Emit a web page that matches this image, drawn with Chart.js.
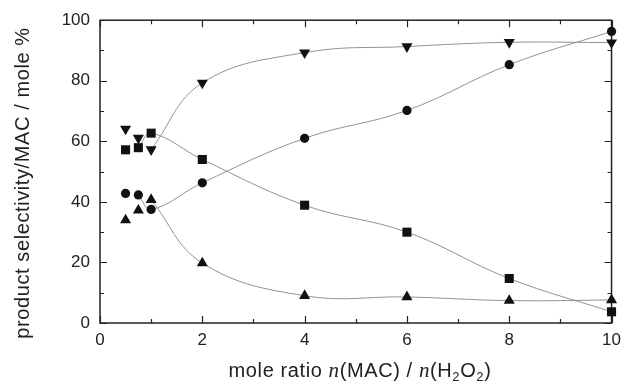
<!DOCTYPE html>
<html>
<head>
<meta charset="utf-8">
<script src="https://cdn.jsdelivr.net/npm/chart.js@4.4.0/dist/chart.umd.min.js"></script>
<style>
    html, body { margin: 0; padding: 0; background: #fff; }
    #wrap { width: 628px; height: 384px; }
</style>
</head>
<body>
<div id="wrap"><canvas id="selectivityChart" width="628" height="384"></canvas></div>
<script>
// mole ratio n(MAC)/n(H2O2)
const ratios = [0.5, 0.75, 1, 2, 4, 6, 8, 10];
// product selectivity, mole %
const circleValues = [42.8, 42.3, 37.5, 46.3, 61.0, 70.2, 85.3, 96.3];
const squareValues = [57.2, 57.9, 62.7, 54.0, 38.9, 30.0, 14.7, 3.7];
const upTriangleValues = [34.0, 37.2, 40.7, 19.8, 9.0, 8.6, 7.4, 7.6];
const downTriangleValues = [64.1, 61.1, 57.3, 79.3, 89.3, 91.3, 92.7, 92.6];
// first point that the fitted curve passes through
const circleCurveStart = 1;
const squareCurveStart = 1;
const upTriangleCurveStart = 2;
const downTriangleCurveStart = 2;

const xTickLabels = [0, 2, 4, 6, 8, 10];
const yTickLabels = [0, 20, 40, 60, 80, 100];
const yTitle = 'product selectivity/MAC / mole %';
// x title pieces: text and style
const xTitleParts = [
    ['mole ratio ', 'normal'], ['n', 'italic'], ['(MAC) / ', 'normal'],
    ['n', 'italic'], ['(H', 'normal'], ['2', 'sub'], ['O', 'normal'],
    ['2', 'sub'], [')', 'normal']
];

const labelFont = '"Liberation Sans", Arial, sans-serif';

function markerSet(values, style, rotation, radius) {
    return {
        data: ratios.map((x, i) => ({ x: x, y: values[i] })),
        pointStyle: style,
        rotation: rotation,
        pointRadius: radius,
        pointHoverRadius: radius,
        backgroundColor: '#111',
        borderColor: '#111',
        borderWidth: 0,
        showLine: false,
        clip: false,
        order: 0
    };
}

function curveSet(values, start) {
    return {
        data: ratios.slice(start).map((x, i) => ({ x: x, y: values[start + i] })),
        borderColor: '#929292',
        borderWidth: 1,
        pointRadius: 0,
        showLine: true,
        tension: 0.4,
        fill: false,
        clip: false,
        order: 1
    };
}

const framePlugin = {
    id: 'frame',
    beforeDatasetsDraw(chart) {
        const { ctx, chartArea: a, scales } = chart;
        const x = scales.x, y = scales.y;
        ctx.save();
        ctx.strokeStyle = '#222';
        ctx.lineWidth = 1.5;
        ctx.strokeRect(a.left, a.top, a.right - a.left, a.bottom - a.top);
        ctx.lineWidth = 1.2;
        ctx.beginPath();
        for (let v = 0; v <= 10; v++) {
            const px = Math.round(x.getPixelForValue(v)) + 0.5;
            const len = v % 2 === 0 ? 7 : 4;
            ctx.moveTo(px, a.bottom);
            ctx.lineTo(px, a.bottom - len);
            ctx.moveTo(px, a.top);
            ctx.lineTo(px, a.top + len);
        }
        for (let v = 0; v <= 100; v += 10) {
            const py = Math.round(y.getPixelForValue(v)) + 0.5;
            const len = v % 20 === 0 ? 7 : 4;
            ctx.moveTo(a.left, py);
            ctx.lineTo(a.left + len, py);
            ctx.moveTo(a.right, py);
            ctx.lineTo(a.right - len, py);
        }
        ctx.stroke();
        ctx.restore();
    },
    afterDraw(chart) {
        const { ctx } = chart;
        const fonts = {
            normal: '20px ' + labelFont,
            italic: 'italic 21px "Liberation Serif", "Times New Roman", serif',
            sub: '13px ' + labelFont
        };
        ctx.save();
        ctx.fillStyle = '#222';
        ctx.textBaseline = 'alphabetic';
        ctx.letterSpacing = '0.6px';

        // y axis title, rotated
        ctx.font = fonts.normal;
        ctx.save();
        ctx.translate(29, 183);
        ctx.rotate(-Math.PI / 2);
        ctx.textAlign = 'center';
        ctx.fillText(yTitle, 0, 0);
        ctx.restore();

        // x axis title with italic n and subscripts
        ctx.textAlign = 'left';
        let total = 0;
        xTitleParts.forEach(p => { ctx.font = fonts[p[1]]; total += ctx.measureText(p[0]).width; });
        let cx = 360 - total / 2;
        const base = 377;
        xTitleParts.forEach(p => {
            ctx.font = fonts[p[1]];
            ctx.fillText(p[0], cx, p[1] === 'sub' ? base + 4 : base);
            cx += ctx.measureText(p[0]).width;
        });
        ctx.restore();
    }
};

const ctx = document.getElementById('selectivityChart').getContext('2d');
const selectivityChart = new Chart(ctx, {
    type: 'scatter',
    data: {
        datasets: [
            markerSet(circleValues, 'circle', 0, 4.6),
            markerSet(squareValues, 'rect', 0, 6.4),
            markerSet(upTriangleValues, 'triangle', 0, 6.4),
            markerSet(downTriangleValues, 'triangle', 180, 6.4),
            curveSet(circleValues, circleCurveStart),
            curveSet(squareValues, squareCurveStart),
            curveSet(upTriangleValues, upTriangleCurveStart),
            curveSet(downTriangleValues, downTriangleCurveStart)
        ]
    },
    options: {
        responsive: false,
        animation: false,
        events: [],
        layout: { padding: { left: 0, right: 11, top: 19, bottom: 0 } },
        plugins: {
            legend: { display: false },
            tooltip: { enabled: false }
        },
        scales: {
            x: {
                type: 'linear',
                min: 0,
                max: 10,
                afterBuildTicks: scale => { scale.ticks = xTickLabels.map(v => ({ value: v })); },
                afterFit: scale => { scale.height = 61; },
                grid: { display: false, drawTicks: false },
                border: { display: false },
                ticks: {
                    padding: 7,
                    color: '#222',
                    font: { family: labelFont, size: 17 }
                }
            },
            y: {
                type: 'linear',
                min: 0,
                max: 100,
                afterBuildTicks: scale => { scale.ticks = yTickLabels.map(v => ({ value: v })); },
                afterFit: scale => { scale.width = 100; },
                grid: { display: false, drawTicks: false },
                border: { display: false },
                ticks: {
                    padding: 10,
                    color: '#222',
                    font: { family: labelFont, size: 17 }
                }
            }
        }
    },
    plugins: [framePlugin]
});
</script>
</body>
</html>
